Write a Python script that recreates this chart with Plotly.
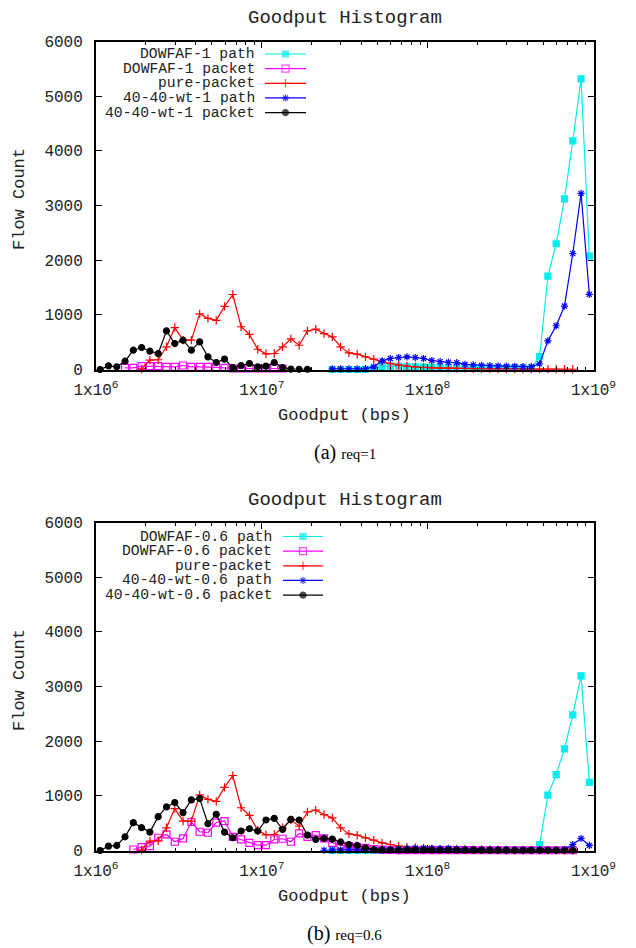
import plotly.graph_objects as go

# ---------------------------------------------------------------------------
# Goodput histogram: 60 log-spaced bins of 0.05 decade between 1 Mbps and 1 Gbps
# ---------------------------------------------------------------------------
BIN_WIDTH_DEC = 0.05
N_BINS = 60
bin_centers = [10 ** (6 + BIN_WIDTH_DEC * (i + 0.5)) for i in range(N_BINS)]

x_tick_vals = [1e6, 1e7, 1e8, 1e9]
x_tick_text = ["1x10<sup>6</sup>", "1x10<sup>7</sup>", "1x10<sup>8</sup>", "1x10<sup>9</sup>"]
y_tick_vals = [0, 1000, 2000, 3000, 4000, 5000, 6000]

# --- req = 1 : (first bin index, flow counts per bin) -----------------------
dowfaf1_path_start = 28
dowfaf1_path = [0, 0, 0, 0, 0, 20, 49, 61, 61, 55, 49, 45, 40, 40, 37, 37,
                35, 35, 30, 30, 30, 28, 28, 25, 25,
                234, 1709, 2300, 3123, 4183, 5316, 2075]

dowfaf1_packet_start = 3
dowfaf1_packet = [30, 30, 61, 61, 61, 49, 49, 73, 49, 49, 49, 40, 30,
                  18, 18, 18, 18, 18, 18, 18]

pure_packet_start = 5
pure_packet = [10, 172, 178, 415, 767, 537, 537, 1017, 935, 898,
               1155, 1372, 782, 641, 370, 287, 293, 415, 560, 444,
               706, 737, 658, 597, 414, 304, 280, 231, 189, 140,
               110, 79, 61, 49, 37, 30, 25, 25, 20, 20,
               15, 15, 12, 12, 10, 10, 8, 8, 8, 6, 6, 5, 5]

wt1_path_start = 28
wt1_path = [10, 10, 10, 10, 15, 49, 158, 201, 219, 231, 219, 201, 165, 143,
            131, 125, 95, 85, 76, 70, 64, 60, 58, 52, 52,
            105, 524, 800, 1160, 2122, 3221, 1375]

wt1_packet_start = 0
wt1_packet = [0, 67, 49, 152, 353, 402, 335, 292, 706, 475, 536, 353, 505,
              231, 128, 189, 37, 73, 110, 49, 61, 128, 37, 6, 5, 5]

# --- req = 0.6 ----------------------------------------------------------------
dowfaf06_path_start = 28
dowfaf06_path = [0] * 25 + [110, 1013, 1387, 1860, 2480, 3195, 1247]

dowfaf06_packet_start = 4
dowfaf06_packet = [18, 61, 80, 233, 294, 160, 221, 521, 343, 325,
                   509, 539, 251, 202, 141, 98, 98, 202, 215, 160,
                   313, 251, 282, 221, 141, 92, 80, 61, 49, 25,
                   15, 10, 8, 8, 8, 8, 8, 6, 6, 6, 6, 6, 5, 5, 5,
                   5, 5, 5, 5, 5, 5, 5, 5, 5]

wt06_path_start = 27
wt06_path = [5, 8, 8, 10, 10, 12, 15, 18, 20, 30, 40, 45, 45, 40, 35,
             40, 30, 25, 22, 20, 20, 18, 18, 15, 15, 15, 15, 15, 12, 20,
             110, 221, 92]

wt06_packet_start = 0
wt06_packet = [0, 80, 92, 251, 509, 417, 337, 619, 797, 877,
               693, 926, 950, 490, 662, 337, 233, 356, 398, 356,
               558, 588, 386, 570, 558, 282, 202, 221, 208, 156,
               110, 92, 49, 18, 10, 8, 8, 8, 8, 8, 8, 8, 8,
               6, 6, 6, 6, 6, 6, 6, 5, 5, 5, 5, 5, 5, 5, 5]

# ---------------------------------------------------------------------------
# Styling
# ---------------------------------------------------------------------------
W, H = 636, 948
PLOT_L, PLOT_R = 96, 593.5
MONO = "Liberation Mono, DejaVu Sans Mono, monospace"
SERIF = "Liberation Serif, DejaVu Serif, serif"
TEXT = "#222222"

STYLES = [
    dict(color="#00eeee", symbol="square", size=6),
    dict(color="#ff00ff", symbol="square-open", size=7),
    dict(color="#ff0000", symbol="cross-thin-open", size=6),
    dict(color="#0000ff", symbol="asterisk-open", size=6),
    dict(color="#000000", symbol="circle", size=6),
]

panels = [
    dict(top=41.5, bottom=369.5, caption="(a)", req="req=1",
         key_text_right=256, key_x0=265, key_x1=306, key_row0=54,
         series=[("DOWFAF-1 path", dowfaf1_path_start, dowfaf1_path),
                 ("DOWFAF-1 packet", dowfaf1_packet_start, dowfaf1_packet),
                 ("pure-packet", pure_packet_start, pure_packet),
                 ("40-40-wt-1 path", wt1_path_start, wt1_path),
                 ("40-40-wt-1 packet", wt1_packet_start, wt1_packet)]),
    dict(top=522.5, bottom=850.5, caption="(b)", req="req=0.6",
         key_text_right=273, key_x0=283, key_x1=323, key_row0=536.5,
         series=[("DOWFAF-0.6 path", dowfaf06_path_start, dowfaf06_path),
                 ("DOWFAF-0.6 packet", dowfaf06_packet_start, dowfaf06_packet),
                 ("pure-packet", pure_packet_start, pure_packet),
                 ("40-40-wt-0.6 path", wt06_path_start, wt06_path),
                 ("40-40-wt-0.6 packet", wt06_packet_start, wt06_packet)]),
]
KEY_ROW_STEP = 14.65

minor_vals = [m * 10 ** e for e in (6, 7, 8) for m in range(2, 10)]

fig = go.Figure()
annotations = []
layout_axes = {}

for p_i, panel in enumerate(panels):
    n = p_i + 1
    xa, ya = ("x" if n == 1 else f"x{n}"), ("y" if n == 1 else f"y{n}")

    for (name, start, counts), st in zip(panel["series"], STYLES):
        fig.add_trace(go.Scatter(
            x=bin_centers[start:start + len(counts)], y=counts,
            mode="lines+markers", name=name, showlegend=False,
            xaxis=xa, yaxis=ya, cliponaxis=False,
            line=dict(color=st["color"], width=1.2),
            marker=dict(color=st["color"], symbol=st["symbol"], size=st["size"],
                        line=dict(color=st["color"], width=1.2)),
        ))

    axis_common = dict(
        showline=True, linewidth=2, linecolor="black", mirror="allticks",
        ticks="inside", ticklen=6, tickwidth=1, tickcolor="black",
        showgrid=False, zeroline=False, automargin=False,
        tickfont=dict(family=MONO, size=16, color=TEXT),
    )
    layout_axes[f"xaxis{'' if n == 1 else n}"] = dict(
        axis_common, type="log", range=[6, 9],
        domain=[PLOT_L / W, PLOT_R / W], anchor=ya,
        tickmode="array", tickvals=x_tick_vals, ticktext=x_tick_text,
        ticklabelstandoff=4,
        minor=dict(tickmode="array", tickvals=minor_vals, ticks="inside",
                   ticklen=3, tickwidth=1, tickcolor="black", showgrid=False),
    )
    layout_axes[f"yaxis{'' if n == 1 else n}"] = dict(
        axis_common, range=[0, 6000],
        domain=[1 - panel["bottom"] / H, 1 - panel["top"] / H], anchor=xa,
        tickmode="array", tickvals=y_tick_vals, ticklabelstandoff=8,
    )

    mid_x = (PLOT_L + PLOT_R) / 2
    annotations += [
        dict(text="Goodput Histogram", x=mid_x / W, y=1 - (panel["top"] - 23) / H,
             xref="paper", yref="paper", showarrow=False, xanchor="center",
             yanchor="middle", font=dict(family=MONO, size=19, color=TEXT)),
        dict(text="Flow Count", x=19.5 / W,
             y=1 - ((panel["top"] + panel["bottom"]) / 2 - 6) / H,
             xref="paper", yref="paper", showarrow=False, textangle=-90,
             xanchor="center", yanchor="middle",
             font=dict(family=MONO, size=17, color=TEXT)),
        dict(text="Goodput (bps)", x=mid_x / W, y=1 - (panel["bottom"] + 46) / H,
             xref="paper", yref="paper", showarrow=False, xanchor="center",
             yanchor="middle", font=dict(family=MONO, size=17, color=TEXT)),
        dict(text=f"{panel['caption']} <span style='font-size:15px'>{panel['req']}</span>",
             x=mid_x / W, y=1 - (panel["bottom"] + 83) / H,
             xref="paper", yref="paper", showarrow=False, xanchor="center",
             yanchor="middle", font=dict(family=SERIF, size=20, color="black")),
    ]

    # key block (text right-justified, sample to its right); each row box is
    # kept to the row pitch so neighbouring rows do not share space
    for r, ((name, _, _), st) in enumerate(zip(panel["series"], STYLES)):
        row_y = panel["key_row0"] + r * KEY_ROW_STEP
        annotations.append(dict(
            text=name, x=panel["key_text_right"] / W, y=1 - row_y / H,
            xref="paper", yref="paper", showarrow=False, xanchor="right",
            yanchor="middle", height=KEY_ROW_STEP - 0.2, borderpad=0,
            font=dict(family=MONO, size=14.7, color=TEXT)))
        kx0, kx1 = panel["key_x0"], panel["key_x1"]
        fig.add_trace(go.Scatter(
            x=[kx0, (kx0 + kx1) / 2, kx1], y=[row_y] * 3,
            mode="lines+markers", showlegend=False, xaxis="x3", yaxis="y3",
            hoverinfo="skip", cliponaxis=False,
            line=dict(color=st["color"], width=1.2),
            marker=dict(color=st["color"], symbol=st["symbol"],
                        size=[0, st["size"], 0],
                        line=dict(color=st["color"], width=1.2)),
        ))

# overlay axis in pixel units used for the key samples
layout_axes["xaxis3"] = dict(domain=[0, 1], range=[0, W], visible=False,
                             anchor="y3", fixedrange=True, automargin=False)
layout_axes["yaxis3"] = dict(domain=[0, 1], range=[H, 0], visible=False,
                             anchor="x3", fixedrange=True, automargin=False)

fig.update_layout(
    width=W, height=H, margin=dict(l=0, r=0, t=0, b=0),
    paper_bgcolor="white", plot_bgcolor="rgba(0,0,0,0)",
    showlegend=False, annotations=annotations, **layout_axes,
)

fig.write_html("out.html")
